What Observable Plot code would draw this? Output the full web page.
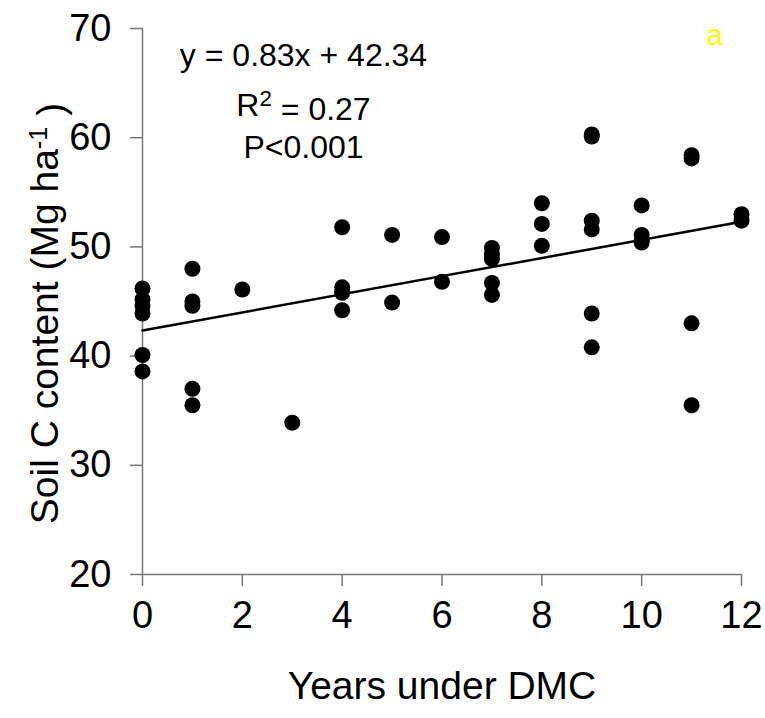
<!DOCTYPE html>
<html><head><meta charset="utf-8">
<script src="https://cdn.jsdelivr.net/npm/d3@7"></script>
<script src="https://cdn.jsdelivr.net/npm/@observablehq/plot@0.6"></script>
<style>html,body{margin:0;padding:0;background:#fff} svg{display:block}</style>
</head><body><div id="chart"></div>
<script>
// Data
const years = [0,0,0,0,0,0, 1,1,1,1,1, 2, 3, 4,4,4,4, 5,5, 6,6, 7,7,7,7,7, 8,8,8, 9,9,9,9,9,9, 10,10,10,10, 11,11,11,11, 12,12];
const soilC = [46.2,45.2,44.6,43.9,40.1,38.6, 48.0,45.0,44.6,37.0,35.5, 46.1, 33.9, 51.8,46.3,45.8,44.2, 51.1,44.9, 50.9,46.8, 49.9,49.3,48.9,46.7,45.6, 54.0,52.1,50.1, 60.3,60.1,52.4,51.6,43.9,40.8, 53.8,51.1,50.6,50.4, 58.4,58.1,43.0,35.5, 53.0,52.4];
const xTicks = [0, 2, 4, 6, 8, 10, 12];
const yTicks = [20, 30, 40, 50, 60, 70];
const slope = 0.83;
const intercept = 42.34;
const fitX = [0, 12];
const statLines = ["y = 0.83x + 42.34", "R2 = 0.27", "P<0.001"];
const panelLabel = "a";
const xLabel = "Years under DMC";
const yLabel = "Soil C content (Mg ha-1 )";

const points = years.map((x, i) => ({x, y: soilC[i]}));
const fit = fitX.map(x => ({x, y: intercept + slope * x}));

const FONT = "'Liberation Sans', Arial, Helvetica, sans-serif";

const chart = Plot.plot({
  width: 765,
  height: 718,
  marginLeft: 142,
  marginRight: 24,
  marginTop: 28,
  marginBottom: 144,
  style: {fontFamily: FONT, fontSize: "38px", background: "#fff", color: "#000"},
  x: {domain: [0, 12]},
  y: {domain: [20, 70]},
  marks: [
    Plot.ruleY([20], {stroke: "#777", strokeWidth: 1.5}),
    Plot.ruleX([0], {stroke: "#777", strokeWidth: 1.5}),
    Plot.axisX({ticks: xTicks, tickSize: 12, tickPadding: 15, stroke: "#777", strokeWidth: 1.5, fill: "#000", fontSize: 38, label: null}),
    Plot.axisY({ticks: yTicks, tickSize: 12, tickPadding: 19, stroke: "#777", strokeWidth: 1.5, fill: "#000", fontSize: 38, label: null}),
    Plot.line(fit, {x: "x", y: "y", stroke: "#000", strokeWidth: 2.5}),
    Plot.dot(points, {x: "x", y: "y", r: 8, fill: "#000", stroke: "none"}),
    Plot.text([statLines[0]], {text: d => d, frameAnchor: "top-left", dx: 161, dy: 27, fontSize: 32, textAnchor: "middle", lineAnchor: "middle", fill: "#000"}),
    Plot.text([statLines[1]], {text: d => d, frameAnchor: "top-left", dx: 161, dy: 77, fontSize: 32, textAnchor: "middle", lineAnchor: "middle", fill: "#000"}),
    Plot.text([statLines[2]], {text: d => d, frameAnchor: "top-left", dx: 161, dy: 119, fontSize: 32, textAnchor: "middle", lineAnchor: "middle", fill: "#000"}),
    Plot.text([panelLabel], {text: d => d, frameAnchor: "top-right", dx: -27, dy: 7, fontSize: 30, textAnchor: "middle", lineAnchor: "middle", fill: "#ffff00"}),
    Plot.text([xLabel], {text: d => d, frameAnchor: "bottom", dy: 112, fontSize: 39, textAnchor: "middle", lineAnchor: "middle", fill: "#000"}),
    Plot.text([yLabel], {text: d => d, frameAnchor: "left", dx: -97, dy: 12, rotate: -90, fontSize: 39, textAnchor: "middle", lineAnchor: "middle", fill: "#000"})
  ]
});

// Superscripts as real tspans
d3.select(chart).selectAll("text").each(function() {
  const t = this.textContent;
  if (t === statLines[1]) {
    const s = d3.select(this); s.text(null);
    s.append("tspan").text("R");
    s.append("tspan").attr("dy", "-0.45em").attr("font-size", "0.7em").text("2");
    s.append("tspan").attr("dy", "0.45em").text(" = 0.27");
  } else if (t === yLabel) {
    const s = d3.select(this); s.text(null);
    s.append("tspan").text("Soil C content (Mg ha");
    s.append("tspan").attr("dy", "-0.45em").attr("font-size", "0.65em").text("-1");
    s.append("tspan").attr("dy", "0.45em").text(" )");
  }
});

document.getElementById("chart").appendChild(chart);
</script>
</body></html>
